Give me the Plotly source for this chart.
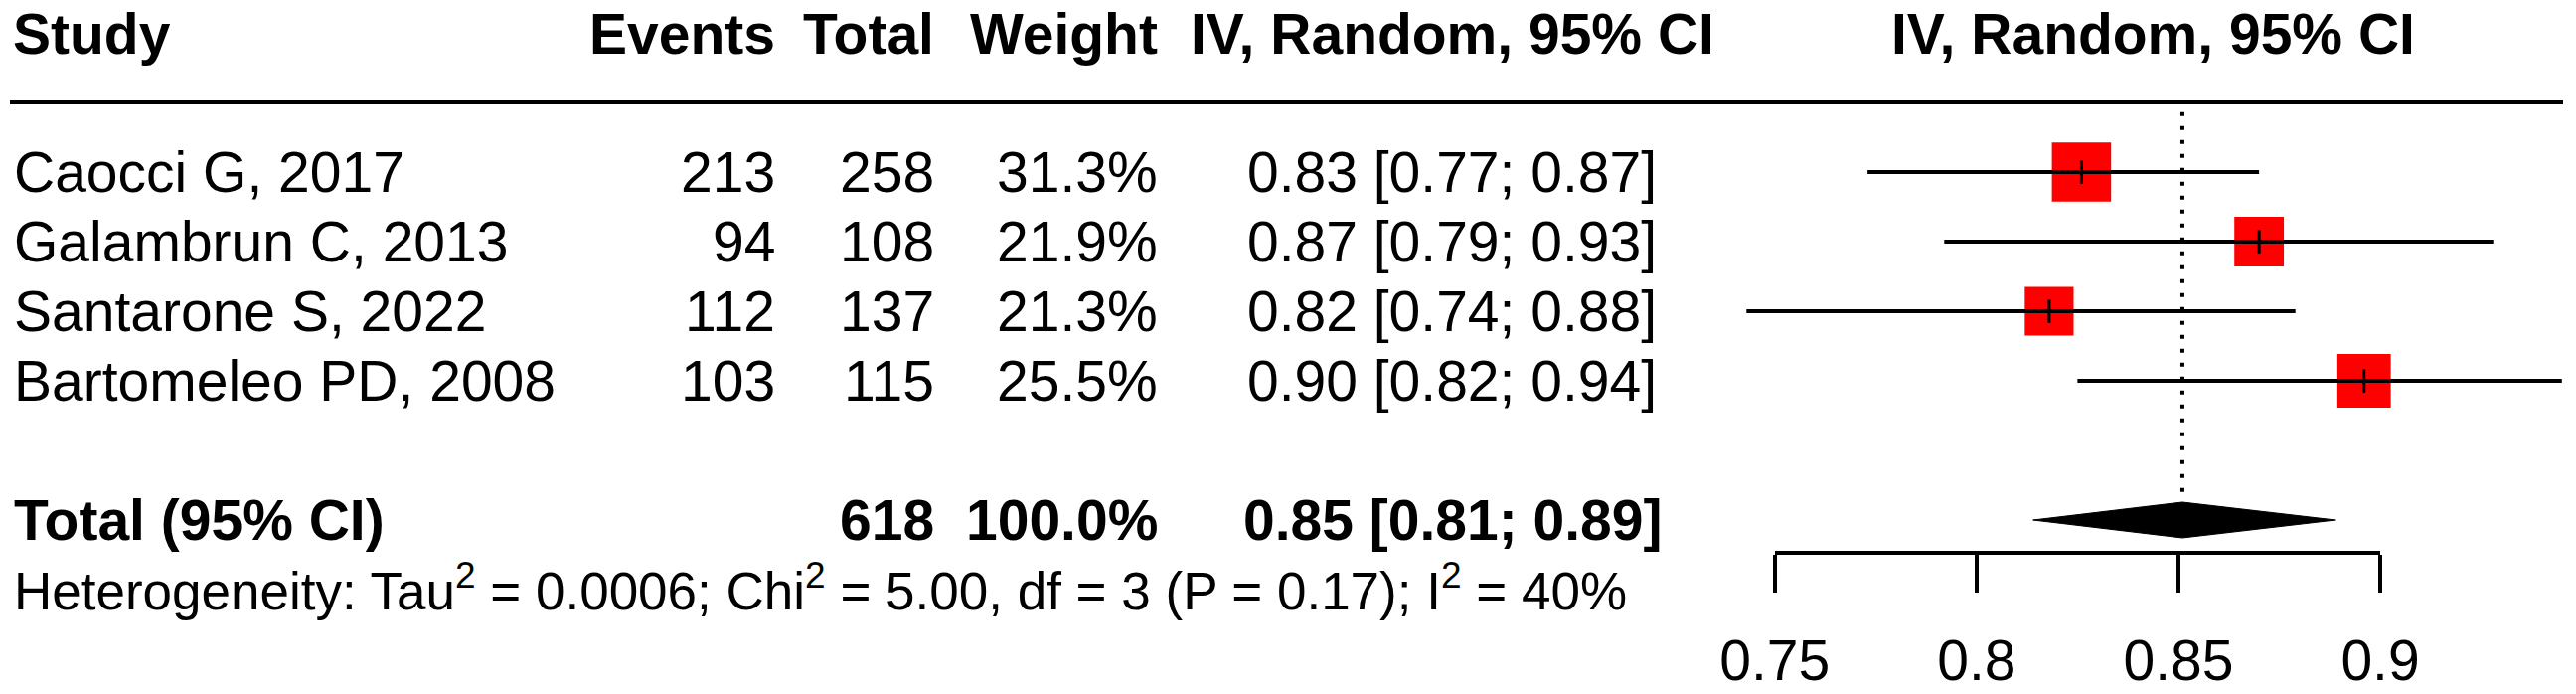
import plotly.graph_objects as go

# ---------------- data ----------------
studies = ["Caocci G, 2017", "Galambrun C, 2013", "Santarone S, 2022", "Bartomeleo PD, 2008"]
events = [213, 94, 112, 103]
totals = [258, 108, 137, 115]
weight_labels = ["31.3%", "21.9%", "21.3%", "25.5%"]
weights = [31.3, 21.9, 21.3, 25.5]
est = [0.826, 0.870, 0.818, 0.896]
ci_lo = [0.773, 0.792, 0.743, 0.825]
ci_hi = [0.870, 0.928, 0.879, 0.945]
ci_labels = ["0.83 [0.77; 0.87]", "0.87 [0.79; 0.93]", "0.82 [0.74; 0.88]", "0.90 [0.82; 0.94]"]

pooled_est = 0.851
pooled_lo = 0.814
pooled_hi = 0.889
pooled_total = 618
pooled_weight_label = "100.0%"
pooled_label = "0.85 [0.81; 0.89]"
total_row_label = "Total (95% CI)"
hetero_text = ("Heterogeneity: Tau<sup>2</sup> = 0.0006; Chi<sup>2</sup> = 5.00, "
               "df = 3 (P = 0.17); I<sup>2</sup> = 40%")

headers = ["Study", "Events", "Total", "Weight", "IV, Random, 95% CI"]
plot_header = "IV, Random, 95% CI"

tick_vals = [0.75, 0.8, 0.85, 0.9]
tick_text = ["0.75", "0.8", "0.85", "0.9"]

# ---------------- layout constants ----------------
W, H = 2592, 698
FONT = "Liberation Sans"
FS = 57
FS_HET = 53
ROW0_PX = 173.0      # pixel y of first study row
ROW_PX = 70.0        # pixel spacing between rows
PX_LO, PX_HI = 1785.7, 2395.0   # pixel x of first / last tick
AXIS_PX = 554.0      # pixel y of forest axis line

px_per_unit = (PX_HI - PX_LO) / (tick_vals[-1] - tick_vals[0])
x_range = [tick_vals[0] - PX_LO / px_per_unit, tick_vals[0] + (W - PX_LO) / px_per_unit]
y_range = [(H - ROW0_PX) / ROW_PX, -ROW0_PX / ROW_PX]

rows = list(range(len(studies)))
total_row = len(studies) + 1
header_row = -1.98
hetero_row = total_row + 0.97

COL_STUDY = 14
COL_EVENTS = 780
COL_TOTAL = 940
COL_WEIGHT = 1165
COL_CI = 1461
COL_PLOT = 2166

fig = go.Figure()

# dotted line at pooled estimate
fig.add_trace(go.Scatter(
    x=[pooled_est, pooled_est], y=[-0.86, total_row - 0.27],
    mode="lines", line=dict(color="black", width=4, dash="4px,10px"),
    hoverinfo="skip", showlegend=False))

# weighted squares
sq_scale = 10.65
fig.add_trace(go.Scatter(
    x=est, y=rows, mode="markers",
    marker=dict(symbol="square", color="#ff0000", opacity=1,
                size=[sq_scale * w ** 0.5 for w in weights], line=dict(width=0)),
    hoverinfo="skip", showlegend=False))

# CI lines
cx, cy = [], []
for lo, hi, r in zip(ci_lo, ci_hi, rows):
    cx += [lo, hi, None]
    cy += [r, r, None]
fig.add_trace(go.Scatter(
    x=cx, y=cy, mode="lines", line=dict(color="black", width=4),
    hoverinfo="skip", showlegend=False))

# point estimate ticks
fig.add_trace(go.Scatter(
    x=est, y=rows, mode="markers",
    marker=dict(symbol="line-ns", size=17, opacity=1, line=dict(color="black", width=3)),
    hoverinfo="skip", showlegend=False))

# pooled diamond
dh = 18.0 / ROW_PX
fig.add_trace(go.Scatter(
    x=[pooled_lo, pooled_est, pooled_hi, pooled_est, pooled_lo],
    y=[total_row, total_row - dh, total_row, total_row + dh, total_row],
    mode="lines", fill="toself", fillcolor="black", line=dict(color="black", width=1),
    hoverinfo="skip", showlegend=False))

# invisible trace to hold the forest axis
fig.add_trace(go.Scatter(
    x=[tick_vals[0], tick_vals[-1]], y=[0.5, 0.5], xaxis="x2", yaxis="y2",
    mode="markers", marker=dict(opacity=0), hoverinfo="skip", showlegend=False))


def ann(text, px, y, anchor, size=FS, bold=False):
    return dict(text=f"<b>{text}</b>" if bold else text, x=px / W, xref="paper",
                y=y, yref="y", xanchor=anchor, yanchor="middle", showarrow=False,
                borderpad=0, borderwidth=0,
                font=dict(family=FONT, size=size, color="black"))


annotations = [
    ann(headers[0], COL_STUDY - 1, header_row, "left", bold=True),
    ann(headers[1], COL_EVENTS, header_row, "right", bold=True),
    ann(headers[2], COL_TOTAL, header_row, "right", bold=True),
    ann(headers[3], COL_WEIGHT, header_row, "right", bold=True),
    ann(headers[4], COL_CI, header_row, "center", bold=True),
    ann(plot_header, COL_PLOT, header_row, "center", bold=True),
]
for i, r in enumerate(rows):
    annotations += [
        ann(studies[i], COL_STUDY, r, "left"),
        ann(str(events[i]), COL_EVENTS, r, "right"),
        ann(str(totals[i]), COL_TOTAL, r, "right"),
        ann(weight_labels[i], COL_WEIGHT, r, "right"),
        ann(ci_labels[i], COL_CI, r, "center"),
    ]
annotations += [
    ann(total_row_label, COL_STUDY, total_row, "left", bold=True),
    ann(str(pooled_total), COL_TOTAL, total_row, "right", bold=True),
    ann(pooled_weight_label, COL_WEIGHT, total_row, "right", bold=True),
    ann(pooled_label, COL_CI, total_row, "center", bold=True),
    ann(hetero_text, COL_STUDY, hetero_row, "left", size=FS_HET),
]

fig.update_layout(
    template="none",
    width=W, height=H,
    margin=dict(l=0, r=0, t=0, b=0, pad=0, autoexpand=False),
    paper_bgcolor="white", plot_bgcolor="rgba(0,0,0,0)",
    showlegend=False,
    annotations=annotations,
    shapes=[dict(type="line", xref="paper", yref="y", x0=10 / W, x1=2579 / W,
                 y0=-1.0, y1=-1.0, line=dict(color="black", width=4))],
    xaxis=dict(domain=[0, 1], range=x_range, visible=False, fixedrange=True, automargin=False),
    yaxis=dict(domain=[0, 1], range=y_range, visible=False, fixedrange=True, automargin=False),
    xaxis2=dict(domain=[PX_LO / W, PX_HI / W], range=[tick_vals[0], tick_vals[-1]],
                anchor="y2", showline=True, linecolor="black", linewidth=4,
                ticks="outside", ticklen=38, tickwidth=4, tickcolor="black",
                tickvals=tick_vals, ticktext=tick_text, showgrid=False, zeroline=False,
                ticklabelstandoff=20, automargin=False,
                tickfont=dict(family=FONT, size=FS, color="black"), fixedrange=True),
    yaxis2=dict(domain=[(H - AXIS_PX) / H, 1], range=[0, 1], visible=False,
                anchor="x2", fixedrange=True, automargin=False),
)

fig.write_html("out.html",
               config={"displayModeBar": False, "staticPlot": True},
               post_script="document.body.style.margin='0px';"
                           "document.body.style.overflow='hidden';")
